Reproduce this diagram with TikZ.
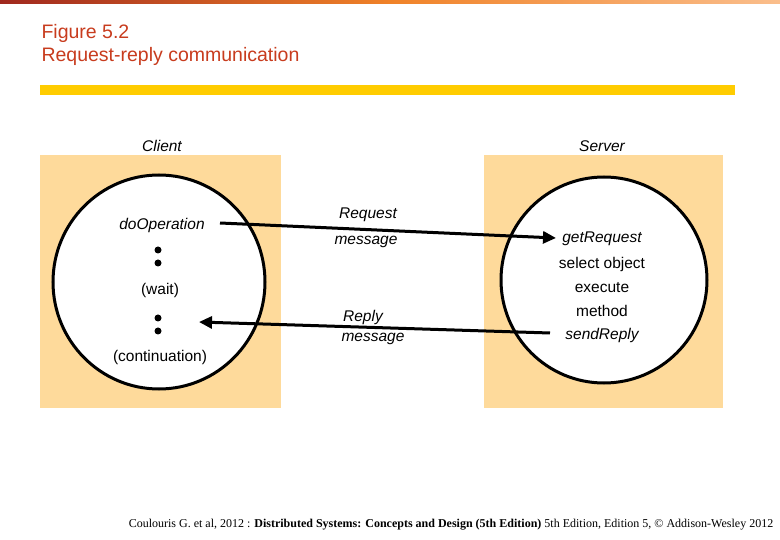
\documentclass[tikz,border=0pt]{standalone}
\usepackage{fontspec}
\setmainfont{Liberation Sans}
\newfontfamily\footfont{Liberation Serif}
\usetikzlibrary{arrows.meta}
\definecolor{titlered}{RGB}{200, 60, 30}
\definecolor{barsand}{RGB}{254, 218, 155}
\definecolor{baryellow}{RGB}{255, 204, 0}
\definecolor{topdark}{RGB}{160, 40, 30}
\definecolor{toporange}{RGB}{240, 130, 40}
\definecolor{toplight}{RGB}{250, 190, 140}

\tikzset{
  lbl/.style={font=\fontsize{15.5}{18}\selectfont\itshape},
  txt/.style={font=\fontsize{15.5}{18}\selectfont},
  msg/.style={line width=3pt, -{Triangle[length=13pt,width=12pt]}},
  dot/.style={circle, fill=black, inner sep=0pt, minimum size=7pt}
}

\begin{document}
\begin{tikzpicture}[x=1pt,y=-1pt]
      \useasboundingbox (0,0) rectangle (780,540);
      \fill[white] (0,0) rectangle (780,540);

      % Header bars
      \shade[left color=topdark, right color=toplight, middle color=toporange] (0,0) rectangle (780,4);
      \fill[baryellow] (40,85) rectangle (735,95);
      \node[anchor=west, text=titlered, font=\fontsize{19.5}{22}\selectfont] (fig) at (38,33) {Figure 5.2};
      \node[anchor=west, text=titlered, font=\fontsize{19.5}{22}\selectfont] (title) at (38,56) {Request-reply communication};

      % Client and server
      \fill[barsand] (40,155) rectangle (281,408);
      \fill[barsand] (484,155) rectangle (723,408);
      \filldraw[fill=white, line width=3pt] (159,282) ellipse (106 and 107);
      \filldraw[fill=white, line width=3pt] (604,280) ellipse (103 and 103);
      \node[lbl] (client) at (162,146) {Client};
      \node[lbl] (server) at (602,146) {Server};

      % Client side
      \node[lbl] (doop) at (162,225) {doOperation};
      \foreach \y/\name in {250/d1, 263/d2, 318/d3, 331/d4}
          \node[dot] (\name) at (158,\y) {};
      \node[txt] (wait) at (160,290) {(wait)};
      \node[txt] (cont) at (160,357) {(continuation)};

      % Server side
      \node[lbl] (getreq) at (602,239) {getRequest};
      \node[txt] (select) at (602,264) {select object};
      \node[txt] (exec) at (602,288) {execute};
      \node[txt] (meth) at (602,311) {method};
      \node[lbl] (sendrep) at (602,335) {sendReply};

      % Messages
      \coordinate (reqa) at (220,223);
      \coordinate (reqb) at (556,238);
      \coordinate (repa) at (550,333);
      \coordinate (repb) at (199,322);
      \draw[msg] (reqa) -- (reqb);
      \draw[msg] (repa) -- (repb);
      \node[lbl] (req1) at (368,215) {Request};
      \node[lbl] (req2) at (366,242) {message};
      \node[lbl] (rep1) at (363,317) {Reply};
      \node[lbl] (rep2) at (373,339) {message};

      % Footer
      \node[font=\footfont\fontsize{12}{14}\selectfont] (foot) at (451,525) {Coulouris G. et al, 2012 : \textbf{Distributed Systems: Concepts and Design (5th Edition)} 5th Edition, Edition 5, © Addison-Wesley 2012};
    \end{tikzpicture}
\end{document}
